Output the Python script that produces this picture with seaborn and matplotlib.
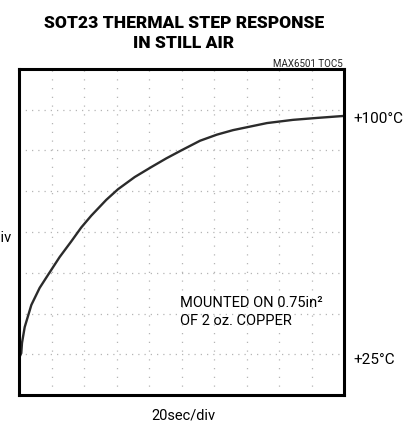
import numpy as np
import pandas as pd
import matplotlib
matplotlib.use("Agg")
import matplotlib.pyplot as plt
import seaborn as sns

# ---- data ----
time_s = [0.3, 0.6, 1.4, 1.85, 3.5, 7.6, 12.7, 17.8, 25.0, 32.2, 38.3, 44.5,
          53.7, 60.9, 71.2, 81.4, 90.6, 99.9, 111.4, 121.8, 131.7, 152.6,
          168.6, 183.4, 199.4]
temp_c = [25.0, 25.3, 26.2, 29.4, 34.3, 41.2, 46.5, 50.5, 56.1, 61.0, 65.3, 69.0,
          73.9, 77.2, 81.0, 84.1, 86.8, 89.3, 92.3, 94.2, 95.6, 97.8,
          98.8, 99.4, 100.0]
level_labels = ["+100°C", "+25°C"]
level_values = [100.0, 25.0]
title_text = "SOT23 THERMAL STEP RESPONSE\nIN STILL AIR"
x_label = "20sec/div"
y_label = "10°C/div"
note_text = "MOUNTED ON 0.75in²\nOF 2 oz. COPPER"
code_text = "MAX6501 TOC5"

df = pd.DataFrame({"t": time_s, "T": temp_c})

sns.set_style("white")
plt.rcParams["font.family"] = ["Roboto", "DejaVu Sans"]
plt.rcParams["text.color"] = "black"

fig = plt.figure(figsize=(4.17, 4.25), dpi=100)
ax = fig.add_axes([19/417, 1-395/425, 325/417, 326/425])

sns.lineplot(data=df, x="t", y="T", ax=ax, color="#2b2b2b", linewidth=1.7)

ylo = 25 - 38*0.3112
yhi = 25 + 288*0.3112
ax.set_xlim(0, 200)
ax.set_ylim(ylo, yhi)
for xv in np.arange(20, 200, 20):
    ax.axvline(xv, color="#b5b5b5", lw=0.9, ls=(0, (1, 6)), zorder=0)
for yv in np.linspace(ylo, yhi, 9)[1:-1]:
    ax.axhline(yv, color="#b5b5b5", lw=0.9, ls=(0, (1, 4)), zorder=0)

ax.set_xticks([]); ax.set_yticks([])
ax.set_xlabel(""); ax.set_ylabel("")
for s in ax.spines.values():
    s.set_visible(True)
    s.set_linewidth(2.2)
    s.set_color("black")

for lab, val in zip(level_labels, level_values):
    ax.annotate(lab, xy=(1.0, val), xycoords=("axes fraction", "data"),
                xytext=(7, -2), textcoords="offset points",
                ha="left", va="center", fontsize=11, color="black")

ax.text(0.495, 0.255, note_text, transform=ax.transAxes, ha="left", va="center",
        fontsize=10.5, linespacing=1.35, color="black")

fig.text(184/417, 1-33/425, title_text, ha="center", va="center",
         fontsize=12.5, fontweight="black", linespacing=1.3, color="black")
fig.text(343/417, 1-64/425, code_text, ha="right", va="center", fontsize=7,
         color="#222222")
fig.text(183/417, 1-415/425, x_label, ha="center", va="center", fontsize=10.5,
         color="black")
fig.text(12/417, 1-237/425, y_label, ha="right", va="center", fontsize=10.5,
         color="black")

fig.savefig("out.png", dpi=100)
